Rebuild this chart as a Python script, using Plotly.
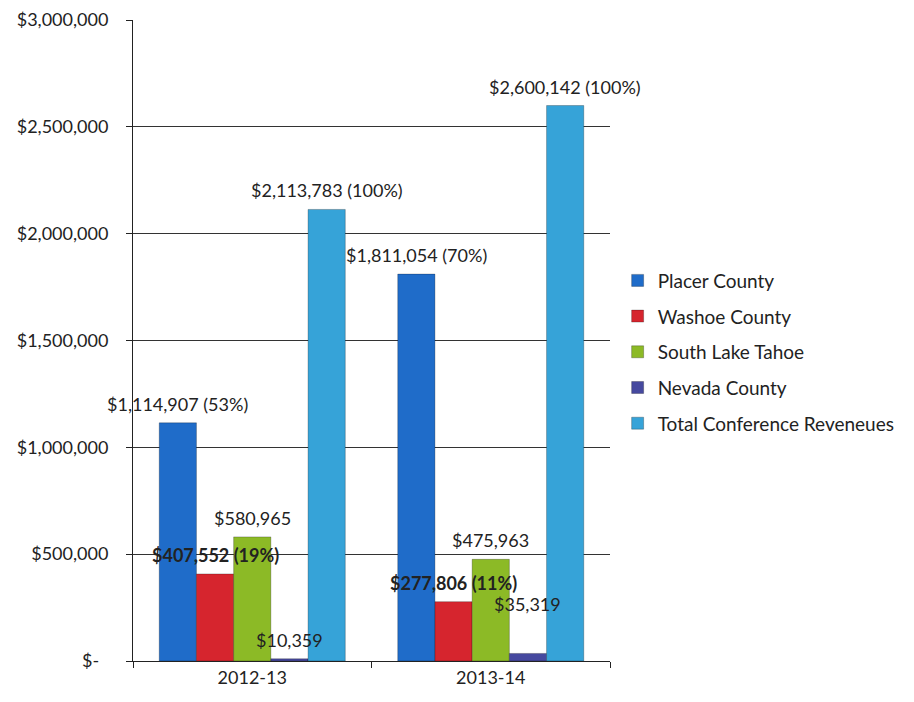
import plotly.graph_objects as go

categories = ["2012-13", "2013-14"]
series_names = ["Placer County", "Washoe County", "South Lake Tahoe", "Nevada County", "Total Conference Reveneues"]
placer = [1114907, 1811054]
washoe = [407552, 277806]
south_lake = [580965, 475963]
nevada = [10359, 35319]
total = [2113783, 2600142]
placer_pct = ["53%", "70%"]
washoe_pct = ["19%", "11%"]
tick_vals = [0, 500000, 1000000, 1500000, 2000000, 2500000, 3000000]
tick_text = ["$-\u00a0\u00a0", "$500,000", "$1,000,000", "$1,500,000", "$2,000,000", "$2,500,000", "$3,000,000"]

colors = ["#1F6CC9", "#D6252E", "#8CBA26", "#46499F", "#36A3D8"]
values = [placer, washoe, south_lake, nevada, total]

FONT = "Lato"
fig = go.Figure()
for name, vals, col in zip(series_names, values, colors):
    fig.add_trace(go.Bar(
        x=categories, y=vals, name=name, legendgroup=name,
        marker=dict(color=col, line=dict(color="rgba(0,0,0,0.25)", width=1)),
    ))

def money(v):
    return "$" + f"{v:,}"

bargap = 0.22
bw = (1 - bargap) / 5
annotations = []
for ci in range(len(categories)):
    labels = [
        money(placer[ci]) + f" ({placer_pct[ci]})",
        "<b>" + money(washoe[ci]) + f" ({washoe_pct[ci]})</b>",
        money(south_lake[ci]),
        money(nevada[ci]),
        money(total[ci]) + " (100%)",
    ]
    for si in range(5):
        extra = 30 if (si == 3 and ci == 1) else 0
        annotations.append(dict(
            x=ci + (si - 2) * bw, y=values[si][ci], xref="x", yref="y",
            text=labels[si], showarrow=False, yanchor="middle",
            yshift=19 + extra, font=dict(family=FONT, size=18, color="#222"),
        ))

fig.update_layout(
    width=906, height=694,
    margin=dict(l=125, r=304, t=12, b=41, autoexpand=False),
    paper_bgcolor="white", plot_bgcolor="white",
    barmode="group", bargap=bargap, bargroupgap=0,
    font=dict(family=FONT, size=18, color="#222"),
    annotations=annotations,
    legend=dict(x=1.016, y=0.482, xanchor="left", yanchor="middle",
                font=dict(family=FONT, size=19, color="#222"),
                tracegroupgap=8, itemwidth=30),
    showlegend=True,
)
fig.update_xaxes(range=[-0.5, 1.5], autorange=False, automargin=False,
                 showline=True, linecolor="#222", linewidth=1,
                 ticks="outside", ticklen=6, tickcolor="#222", tickson="boundaries",
                 tickfont=dict(family=FONT, size=18, color="#222"), showgrid=False)
fig.update_yaxes(range=[0, 3000500], autorange=False, automargin=False,
                 tickvals=tick_vals, ticktext=tick_text, ticklabeloverflow="allow",
                 showline=True, linecolor="#222", linewidth=1,
                 ticks="outside", ticklen=6, tickcolor="#222",
                 showgrid=True, gridcolor="#333", gridwidth=1, zeroline=False,
                 tickfont=dict(family=FONT, size=18, color="#222"), ticklabelstandoff=14)

fig.write_html("out.html")
